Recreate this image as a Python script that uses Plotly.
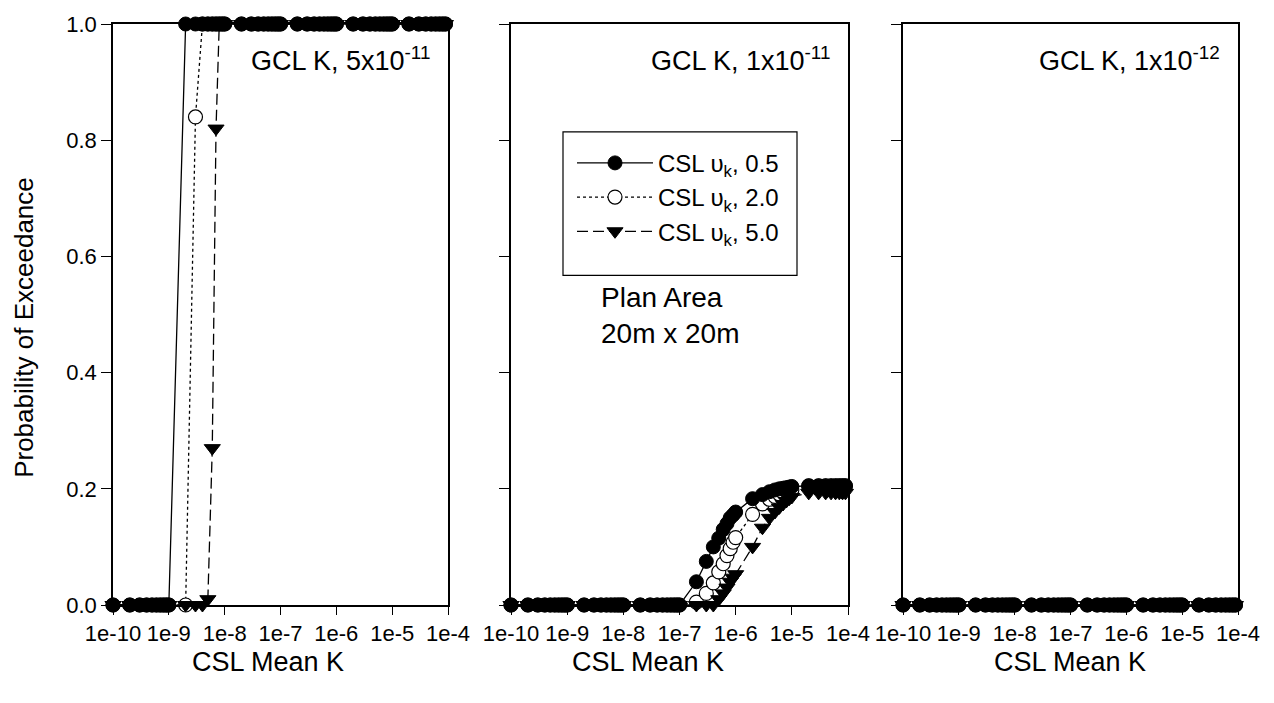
import plotly.graph_objects as go

# x grid (CSL mean K), 1..9 per decade from 1e-10 to 1e-4
X = [1e-10, 2e-10, 3e-10, 4e-10, 5e-10, 6e-10, 7e-10, 8e-10, 9e-10,
     1e-9, 2e-9, 3e-9, 4e-9, 5e-9, 6e-9, 7e-9, 8e-9, 9e-9,
     1e-8, 2e-8, 3e-8, 4e-8, 5e-8, 6e-8, 7e-8, 8e-8, 9e-8,
     1e-7, 2e-7, 3e-7, 4e-7, 5e-7, 6e-7, 7e-7, 8e-7, 9e-7,
     1e-6, 2e-6, 3e-6, 4e-6, 5e-6, 6e-6, 7e-6, 8e-6, 9e-6,
     1e-5, 2e-5, 3e-5, 4e-5, 5e-5, 6e-5, 7e-5, 8e-5, 9e-5,
     1e-4]

# Panel 1: GCL K 5e-11
P1_S1 = [0, 0, 0, 0, 0, 0, 0, 0, 0,
         0, 1, 1, 1, 1, 1, 1, 1, 1,
         1, 1, 1, 1, 1, 1, 1, 1, 1,
         1, 1, 1, 1, 1, 1, 1, 1, 1,
         1, 1, 1, 1, 1, 1, 1, 1, 1,
         1, 1, 1, 1, 1, 1, 1, 1, 1,
         1]
P1_S2 = [0, 0, 0, 0, 0, 0, 0, 0, 0,
         0, 0, 0.84, 1, 1, 1, 1, 1, 1,
         1, 1, 1, 1, 1, 1, 1, 1, 1,
         1, 1, 1, 1, 1, 1, 1, 1, 1,
         1, 1, 1, 1, 1, 1, 1, 1, 1,
         1, 1, 1, 1, 1, 1, 1, 1, 1,
         1]
P1_S3 = [0, 0, 0, 0, 0, 0, 0, 0, 0,
         0, 0, 0, 0, 0.01, 0.27, 0.82, 1, 1,
         1, 1, 1, 1, 1, 1, 1, 1, 1,
         1, 1, 1, 1, 1, 1, 1, 1, 1,
         1, 1, 1, 1, 1, 1, 1, 1, 1,
         1, 1, 1, 1, 1, 1, 1, 1, 1,
         1]

# Panel 2: GCL K 1e-11
P2_S1 = [0, 0, 0, 0, 0, 0, 0, 0, 0,
         0, 0, 0, 0, 0, 0, 0, 0, 0,
         0, 0, 0, 0, 0, 0, 0, 0, 0,
         0, 0.04, 0.075, 0.10, 0.115, 0.13, 0.14, 0.15, 0.155,
         0.16, 0.183, 0.19, 0.195, 0.198, 0.20, 0.201, 0.202, 0.203,
         0.204, 0.205, 0.205, 0.205, 0.205, 0.205, 0.205, 0.205, 0.205,
         0.205]
P2_S2 = [0, 0, 0, 0, 0, 0, 0, 0, 0,
         0, 0, 0, 0, 0, 0, 0, 0, 0,
         0, 0, 0, 0, 0, 0, 0, 0, 0,
         0, 0.005, 0.02, 0.038, 0.057, 0.071, 0.085, 0.097, 0.108,
         0.116, 0.156, 0.174, 0.182, 0.187, 0.191, 0.194, 0.196, 0.197,
         0.198, 0.205, 0.205, 0.205, 0.205, 0.205, 0.205, 0.205, 0.205,
         0.205]
P2_S3 = [0, 0, 0, 0, 0, 0, 0, 0, 0,
         0, 0, 0, 0, 0, 0, 0, 0, 0,
         0, 0, 0, 0, 0, 0, 0, 0, 0,
         0, 0, 0, 0, 0.01, 0.02, 0.03, 0.04, 0.047,
         0.053, 0.10, 0.133, 0.15, 0.16, 0.168, 0.174, 0.179, 0.183,
         0.186, 0.193, 0.193, 0.193, 0.193, 0.193, 0.193, 0.193, 0.193,
         0.193]

# Panel 3: GCL K 1e-12
P3_S1 = [0, 0, 0, 0, 0, 0, 0, 0, 0,
         0, 0, 0, 0, 0, 0, 0, 0, 0,
         0, 0, 0, 0, 0, 0, 0, 0, 0,
         0, 0, 0, 0, 0, 0, 0, 0, 0,
         0, 0, 0, 0, 0, 0, 0, 0, 0,
         0, 0, 0, 0, 0, 0, 0, 0, 0,
         0]
P3_S2 = [0, 0, 0, 0, 0, 0, 0, 0, 0,
         0, 0, 0, 0, 0, 0, 0, 0, 0,
         0, 0, 0, 0, 0, 0, 0, 0, 0,
         0, 0, 0, 0, 0, 0, 0, 0, 0,
         0, 0, 0, 0, 0, 0, 0, 0, 0,
         0, 0, 0, 0, 0, 0, 0, 0, 0,
         0]
P3_S3 = [0, 0, 0, 0, 0, 0, 0, 0, 0,
         0, 0, 0, 0, 0, 0, 0, 0, 0,
         0, 0, 0, 0, 0, 0, 0, 0, 0,
         0, 0, 0, 0, 0, 0, 0, 0, 0,
         0, 0, 0, 0, 0, 0, 0, 0, 0,
         0, 0, 0, 0, 0, 0, 0, 0, 0,
         0]

SERIES_NAMES = ["CSL \u03c5<sub>k</sub>, 0.5", "CSL \u03c5<sub>k</sub>, 2.0", "CSL \u03c5<sub>k</sub>, 5.0"]
PANEL_LABELS = ["GCL K, 5x10<sup>-11</sup>", "GCL K, 1x10<sup>-11</sup>", "GCL K, 1x10<sup>-12</sup>"]
X_TITLE = "CSL Mean K"
Y_TITLE = "Probability of Exceedance"
NOTE = "Plan Area<br>20m x 20m"
X_TICKVALS = [1e-10, 1e-9, 1e-8, 1e-7, 1e-6, 1e-5, 1e-4]
X_TICKTEXT = ["1e-10", "1e-9", "1e-8", "1e-7", "1e-6", "1e-5", "1e-4"]
Y_TICKVALS = [0, 0.2, 0.4, 0.6, 0.8, 1.0]
Y_TICKTEXT = ["0.0", "0.2", "0.4", "0.6", "0.8", "1.0"]

panels = [(P1_S1, P1_S2, P1_S3), (P2_S1, P2_S2, P2_S3), (P3_S1, P3_S2, P3_S3)]

styles = [
    dict(line=dict(color="black", width=1.3, dash="solid"),
         marker=dict(symbol="circle", size=14, color="black", line=dict(color="black", width=1))),
    dict(line=dict(color="black", width=1.3, dash="dot"),
         marker=dict(symbol="circle", size=14, color="white", line=dict(color="black", width=1.2))),
    dict(line=dict(color="black", width=1.3, dash="11px,5px"),
         marker=dict(symbol="triangle-down", size=14, color="black", line=dict(color="black", width=1))),
]
DRAW_ORDER = [1, 0, 2]  # open circles underneath, triangles on top

FONT = "Arial, 'Liberation Sans', sans-serif"

fig = go.Figure()
W, H = 1274, 703
ml, mr, mt, mb = 113, 36, 18, 98
pw = W - ml - mr
ph = H - mt - mb
px_domains = [(113, 448), (511, 848), (903, 1238)]
domains = [((a - ml) / pw, (b - ml) / pw) for a, b in px_domains]


def px_x(v):
    return (v - ml) / pw


def px_y(v):
    return (H - mb - v) / ph


for p, series in enumerate(panels):
    xa = "x" if p == 0 else f"x{p+1}"
    ya = "y" if p == 0 else f"y{p+1}"
    for s in DRAW_ORDER:
        fig.add_trace(go.Scatter(
            x=X, y=series[s], mode="lines+markers", name=SERIES_NAMES[s],
            showlegend=(p == 0), legendgroup=str(s), legendrank=s + 1,
            xaxis=xa, yaxis=ya, cliponaxis=False, **styles[s]))

for p in range(3):
    xk = "xaxis" if p == 0 else f"xaxis{p+1}"
    yk = "yaxis" if p == 0 else f"yaxis{p+1}"
    fig.layout[xk] = dict(
        type="log", range=[-10, -4], domain=list(domains[p]),
        anchor="y" if p == 0 else f"y{p+1}",
        tickvals=X_TICKVALS, ticktext=X_TICKTEXT, ticks="outside", ticklen=8,
        tickwidth=1.3, tickcolor="black",
        showline=True, linecolor="black", linewidth=1.5, mirror=True,
        showgrid=False, zeroline=False,
        tickfont=dict(family=FONT, size=22, color="black"),
    )
    fig.layout[yk] = dict(
        range=[0, 1], domain=[0, 1],
        anchor="x" if p == 0 else f"x{p+1}",
        tickvals=Y_TICKVALS, ticktext=Y_TICKTEXT, ticks="outside", ticklen=10,
        tickwidth=1.3, tickcolor="black",
        showticklabels=(p == 0),
        showline=True, linecolor="black", linewidth=1.5, mirror=True,
        showgrid=False, zeroline=False,
        tickfont=dict(family=FONT, size=22, color="black"),
    )
    xref = "x domain" if p == 0 else f"x{p+1} domain"
    yref = "y domain" if p == 0 else f"y{p+1} domain"
    fig.add_annotation(text=PANEL_LABELS[p], xref=xref, yref=yref, x=1, y=0.94,
                       xanchor="right", yanchor="middle", xshift=-16, showarrow=False,
                       font=dict(family=FONT, size=27, color="black"))

# x-axis titles
for cx in (268, 648, 1070):
    fig.add_annotation(text=X_TITLE, xref="paper", yref="paper", x=px_x(cx), y=px_y(663),
                       xanchor="center", yanchor="middle", showarrow=False,
                       font=dict(family=FONT, size=27, color="black"))

# y-axis title
fig.add_annotation(text=Y_TITLE, xref="paper", yref="paper", x=px_x(24), y=px_y(325),
                   xanchor="center", yanchor="middle", textangle=-90, showarrow=False,
                   font=dict(family=FONT, size=26, color="black"))

fig.add_annotation(text=NOTE, xref="paper", yref="paper",
                   x=px_x(599), y=px_y(313), xanchor="left", yanchor="middle", align="left",
                   showarrow=False, font=dict(family=FONT, size=28, color="black"))

# legend frame
fig.add_shape(type="rect", xref="paper", yref="paper",
              x0=px_x(563), x1=px_x(797), y0=px_y(272), y1=px_y(127),
              line=dict(color="black", width=1.2), fillcolor="rgba(0,0,0,0)", layer="above")

fig.update_layout(
    width=W, height=H, margin=dict(l=ml, r=mr, t=mt, b=mb),
    plot_bgcolor="white", paper_bgcolor="white",
    legend=dict(x=px_x(572), y=px_y(136), xanchor="left", yanchor="top",
                bgcolor="rgba(0,0,0,0)", borderwidth=0, tracegroupgap=0,
                font=dict(family=FONT, size=24, color="black"), itemwidth=76),
)

fig.write_html("out.html")
